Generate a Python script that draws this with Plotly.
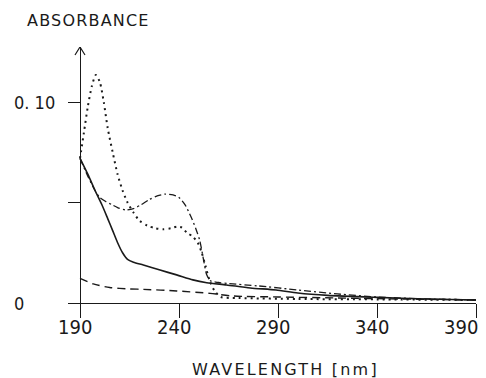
import plotly.graph_objects as go

# ---- data ----
wl_solid = [190, 194, 197.6, 201, 204, 206.5, 209, 211.5, 214, 217, 222, 230, 238.8, 247, 254, 264, 276, 289, 300, 315, 340, 365, 390]
abs_solid = [0.072, 0.064, 0.056, 0.049, 0.042, 0.036, 0.030, 0.025, 0.0217, 0.0203, 0.0189, 0.0165, 0.014, 0.0115, 0.0101, 0.009, 0.0075, 0.0065, 0.005, 0.0038, 0.0028, 0.002, 0.0015]

wl_dashed = [190, 196.7, 205, 215, 222, 238.8, 255.7, 267, 290, 320, 350, 390]
abs_dashed = [0.0123, 0.0095, 0.0077, 0.0070, 0.0068, 0.006, 0.0048, 0.0035, 0.003, 0.0025, 0.002, 0.0015]

wl_dotted = [190, 192, 194, 196, 198, 200, 202, 204, 206.5, 209, 211.5, 214, 217, 220, 224, 228, 232, 236, 239, 241.5, 244, 247, 249.5, 251.5, 253.5, 255.5, 258, 261, 270, 300, 340, 390]
abs_dotted = [0.072, 0.085, 0.098, 0.108, 0.1135, 0.110, 0.100, 0.087, 0.075, 0.064, 0.056, 0.050, 0.045, 0.041, 0.0385, 0.0372, 0.0367, 0.0372, 0.038, 0.0375, 0.035, 0.033, 0.030, 0.025, 0.018, 0.011, 0.006, 0.003, 0.0025, 0.002, 0.0018, 0.0015]

wl_dashdot = [190, 194, 197.6, 200, 203, 206, 209, 213, 217, 221, 225, 229, 233, 237, 240, 243, 246, 248.5, 250.5, 252.5, 254, 256, 260, 265, 280, 300, 320, 340, 360, 390]
abs_dashdot = [0.072, 0.063, 0.056, 0.0525, 0.0505, 0.049, 0.0475, 0.0463, 0.047, 0.049, 0.0515, 0.0533, 0.0542, 0.0538, 0.0525, 0.049, 0.043, 0.037, 0.031, 0.021, 0.014, 0.011, 0.0102, 0.0097, 0.0085, 0.0065, 0.0045, 0.003, 0.0022, 0.0015]

x_tickvals = [190, 240, 290, 340, 390]
x_ticktext = ["190", "240", "290", "340", "390"]
y_tickvals = [0.05, 0.10]
y_labelvals = [0, 0.10]
y_labeltext = ["0", "0. 10"]

INK = "#1a1a1a"
FONT = "DejaVu Sans"
NARROW = "Liberation Sans Narrow, DejaVu Sans Condensed, Liberation Sans"

fig = go.Figure()
series = [
    (wl_solid, abs_solid, "solid", 1.6),
    (wl_dashed, abs_dashed, "8px,5px", 1.4),
    (wl_dotted, abs_dotted, "2px,4px", 2.0),
    (wl_dashdot, abs_dashdot, "7px,3px,2px,3px", 1.3),
]
for xs, ys, dash, w in series:
    fig.add_trace(go.Scatter(x=xs, y=ys, mode="lines",
                             line=dict(color=INK, width=w, dash=dash, shape="spline", smoothing=0.7),
                             showlegend=False, hoverinfo="skip"))

# page body has an 8px margin: figure is drawn 8px lower/righter, so size and
# place everything 8px less.
OFF = 8
W, H = 486 - OFF, 378 - OFF
L = 68 - OFF            # x-axis line starts at 68px in the reference
R = W - (476 - OFF)     # 390 at 476px
T = 47 - OFF            # arrow tip at 47px
B = H - (303 - OFF)     # zero line at 303px
pw = W - L - R
ph = H - T - B
x0 = 190 - 12 / (396 / 200)
ytop = 0.1274

fig.update_layout(
    width=W, height=H,
    margin=dict(l=L, r=R, t=T, b=B, pad=0),
    paper_bgcolor="white", plot_bgcolor="white",
    font=dict(family=FONT, color=INK),
    xaxis=dict(range=[x0, 390], showgrid=False, zeroline=False,
               showline=True, linecolor=INK, linewidth=1.2,
               tickmode="array", tickvals=x_tickvals, showticklabels=False,
               ticks="outside", ticklen=14, tickwidth=1.2, tickcolor=INK),
    yaxis=dict(range=[0, ytop], showgrid=False, zeroline=False,
               anchor="free", position=12 / pw,
               showline=True, linecolor=INK, linewidth=1.2,
               tickmode="array", tickvals=y_tickvals, showticklabels=False,
               ticks="outside", ticklen=12, tickwidth=1.2, tickcolor=INK),
)

# x tick labels, placed just below the tick marks as in the reference
# (the last one is nudged left so it stays fully visible)
last = x_tickvals[-1]
for v, t in zip(x_tickvals, x_ticktext):
    fig.add_annotation(x=v, xref="x", y=-(327 - 303) / ph, yref="paper", text=t,
                       showarrow=False, xanchor="center", yanchor="middle",
                       xshift=(-15 if v == last else -5),
                       font=dict(size=20, color=INK, family=NARROW))

# y tick labels (left aligned as in the reference)
for v, t in zip(y_labelvals, y_labeltext):
    fig.add_annotation(x=(12 - 68) / pw, xref="paper", y=v, yref="y", text=t,
                       showarrow=False, xanchor="left", yanchor="middle",
                       font=dict(size=18, color=INK, family=NARROW))

# arrow head on y-axis
fig.add_shape(type="path", xref="x", yref="y", xsizemode="pixel", ysizemode="pixel",
              xanchor=190, yanchor=ytop, path="M -5 -8 L 0 0 L 5 -8",
              line=dict(color=INK, width=1.2))

fig.add_annotation(x=(25 - 68) / pw, xref="paper", y=(303 - 20) / ph, yref="paper",
                   text='<span style="letter-spacing:1.2px">ABSORBANCE</span>',
                   showarrow=False, xanchor="left", yanchor="middle",
                   font=dict(size=16, color=INK, family=FONT))
fig.add_annotation(x=(190 - 68) / pw, xref="paper", y=-(369 - 303) / ph, yref="paper",
                   text='<span style="letter-spacing:2.2px">WAVELENGTH [nm]</span>',
                   showarrow=False, xanchor="left", yanchor="middle",
                   font=dict(size=16, color=INK, family=FONT))

fig.write_html("out.html")
